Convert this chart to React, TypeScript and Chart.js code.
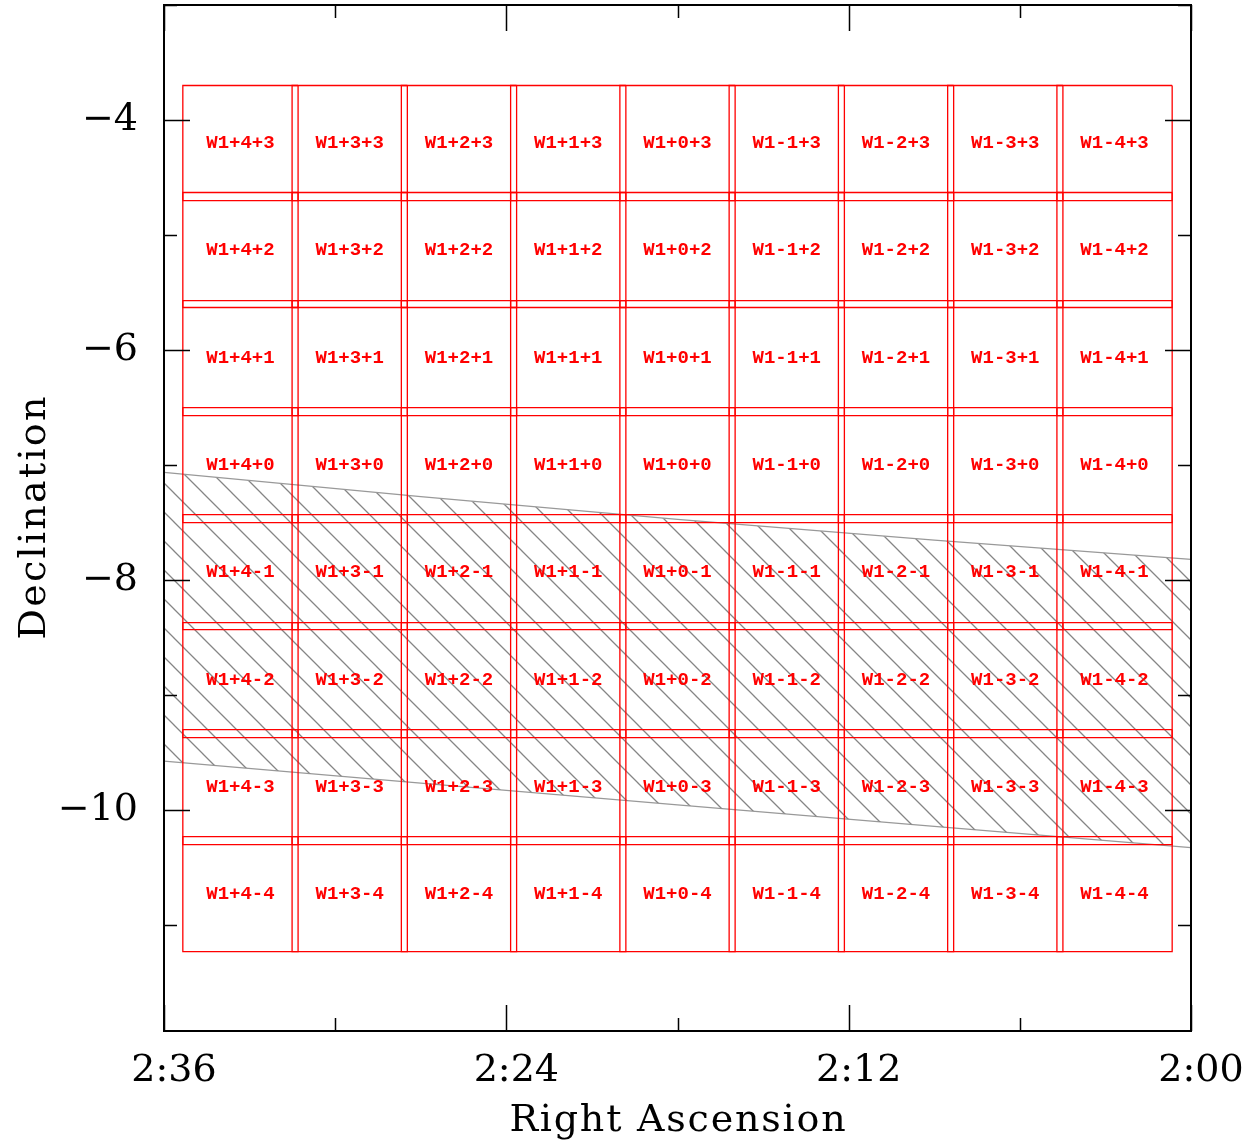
import React, { useEffect, useRef } from 'react';
import { Chart, registerables } from 'chart.js';

Chart.register(...registerables);

// ---- data (RA in minutes of time past 0h, Dec in degrees) ----
const tileColumns = [4, 3, 2, 1, 0, -1, -2, -3, -4];
const tileRows = [3, 2, 1, 0, -1, -2, -3, -4];
const tileRaCenters = [153.32, 149.49, 145.66, 141.83, 138.0, 134.17, 130.34, 126.51, 122.68];
const tileDecCenters = [-4.2, -5.13, -6.07, -7.0, -7.93, -8.87, -9.8, -10.73];
const tileHalfWidthRa = 2.02;
const tileHalfHeightDec = 0.5;

const bandRa = [156, 147, 138, 129, 120];
const bandUpperDec = [-7.063, -7.275, -7.472, -7.653, -7.819];
const bandLowerDec = [-9.573, -9.765, -9.954, -10.141, -10.325];

const raMin = 120;
const raMax = 156;
const decMin = -11.92;
const decMax = -3.0;

const tileName = (c: number, r: number) =>
  `W1${c < 0 ? '-' : '+'}${Math.abs(c)}${r < 0 ? '-' : '+'}${Math.abs(r)}`;

const raLabel = (v: number) => `${Math.floor(v / 60)}:${String(v % 60).padStart(2, '0')}`;

export default function App() {
  const ref = useRef<HTMLCanvasElement>(null);

  useEffect(() => {
    const canvas = ref.current!;
    const ctx = canvas.getContext('2d')!;

    // diagonal hatch pattern
    const s = 29;
    const pc = document.createElement('canvas');
    pc.width = s;
    pc.height = s;
    const p = pc.getContext('2d')!;
    p.strokeStyle = '#858585';
    p.lineWidth = 1.3;
    p.beginPath();
    for (const k of [-s, 0, s]) {
      p.moveTo(k - 2, -2);
      p.lineTo(k + s + 2, s + 2);
    }
    p.stroke();
    const pattern = ctx.createPattern(pc, 'repeat')!;

    const bandUpper = bandRa.map((x, i) => ({ x, y: bandUpperDec[i] }));
    const bandLower = bandRa.map((x, i) => ({ x, y: bandLowerDec[i] }));

    const tileSets: any[] = [];
    tileRows.forEach((r, ri) => {
      tileColumns.forEach((c, ci) => {
        const ra = tileRaCenters[ci];
        const dec = tileDecCenters[ri];
        const hw = tileHalfWidthRa;
        const hh = tileHalfHeightDec;
        tileSets.push({
          label: tileName(c, r),
          data: [
            { x: ra - hw, y: dec + hh },
            { x: ra + hw, y: dec + hh },
            { x: ra + hw, y: dec - hh },
            { x: ra - hw, y: dec - hh },
            { x: ra - hw, y: dec + hh },
          ],
          borderColor: '#ff0000',
          borderWidth: 1.3,
          pointRadius: 0,
          fill: false,
          tension: 0,
          order: 0,
        });
      });
    });

    const decor = {
      id: 'decor',
      afterDatasetsDraw(chart: any) {
        const { ctx: c, scales } = chart;
        const xs = scales.x;
        const ys = scales.y;
        c.save();
        c.fillStyle = '#ff0000';
        c.font = 'bold 19px "Liberation Mono"';
        c.textAlign = 'center';
        c.textBaseline = 'middle';
        tileRows.forEach((r, ri) => {
          tileColumns.forEach((col, ci) => {
            c.fillText(
              tileName(col, r),
              xs.getPixelForValue(tileRaCenters[ci]),
              ys.getPixelForValue(tileDecCenters[ri])
            );
          });
        });
        c.restore();
      },
      afterDraw(chart: any) {
        const { ctx: c, chartArea: a, scales } = chart;
        const xs = scales.x;
        const ys = scales.y;
        c.save();
        // frame
        c.strokeStyle = '#000';
        c.lineWidth = 2;
        c.strokeRect(a.left, a.top, a.right - a.left, a.bottom - a.top);
        // ticks, inward on all four sides
        c.lineWidth = 1.5;
        c.beginPath();
        xs.ticks.forEach((t: any) => {
          if (t.value % 6 !== 0) return;
          const len = t.value % 12 === 0 ? 26 : 13;
          const px = Math.round(xs.getPixelForValue(t.value)) + 0.5;
          c.moveTo(px, a.bottom);
          c.lineTo(px, a.bottom - len);
          c.moveTo(px, a.top);
          c.lineTo(px, a.top + len);
        });
        ys.ticks.forEach((t: any) => {
          if (!Number.isInteger(t.value)) return;
          const len = t.value % 2 === 0 ? 26 : 13;
          const py = Math.round(ys.getPixelForValue(t.value)) + 0.5;
          c.moveTo(a.left, py);
          c.lineTo(a.left + len, py);
          c.moveTo(a.right, py);
          c.lineTo(a.right - len, py);
        });
        c.stroke();

        // axis titles
        c.fillStyle = '#000';
        c.font = '38px "DejaVu Serif"';
        c.textBaseline = 'alphabetic';
        c.textAlign = 'left';
        const xt = 'Right Ascension';
        c.letterSpacing = '0px';
        const wx = c.measureText(xt).width;
        const lsx = (338 - wx) / xt.length;
        c.letterSpacing = `${lsx}px`;
        const wx2 = c.measureText(xt).width - lsx;
        c.fillText(xt, (a.left + a.right) / 2 - wx2 / 2, 1131);

        const yt = 'Declination';
        c.letterSpacing = '0px';
        const wy = c.measureText(yt).width;
        const lsy = (245 - wy) / yt.length;
        c.letterSpacing = `${lsy}px`;
        const wy2 = c.measureText(yt).width - lsy;
        c.translate(45, (a.top + a.bottom) / 2);
        c.rotate(-Math.PI / 2);
        c.fillText(yt, -wy2 / 2, 0);
        c.restore();
      },
    };

    const chart = new Chart(ctx, {
      type: 'line',
      data: {
        datasets: [
          {
            label: 'band upper',
            data: bandUpper,
            borderColor: '#999999',
            borderWidth: 1.2,
            pointRadius: 0,
            tension: 0,
            fill: '+1',
            backgroundColor: pattern,
            order: 1,
          } as any,
          {
            label: 'band lower',
            data: bandLower,
            borderColor: '#999999',
            borderWidth: 1.2,
            pointRadius: 0,
            tension: 0,
            fill: false,
            order: 1,
          },
          ...tileSets,
        ],
      },
      options: {
        responsive: false,
        animation: false,
        events: [],
        layout: { padding: { top: 5, right: 67, left: 0, bottom: 0 } },
        plugins: {
          legend: { display: false },
          tooltip: { enabled: false },
          title: { display: false },
        },
        scales: {
          x: {
            type: 'linear',
            min: raMin,
            max: raMax,
            reverse: true,
            border: { display: false },
            grid: { display: false, drawTicks: false },
            afterFit: (sc: any) => {
              sc.height = 111;
              sc.paddingLeft = 0;
              sc.paddingRight = 0;
            },
            ticks: {
              stepSize: 6,
              autoSkip: false,
              maxRotation: 0,
              padding: 17,
              labelOffset: 10,
              color: '#000',
              font: { family: 'DejaVu Serif', size: 38 },
              callback: (v: any) => (Number(v) % 12 === 0 ? raLabel(Number(v)) : ''),
            },
          },
          y: {
            type: 'linear',
            min: decMin,
            max: decMax,
            border: { display: false },
            grid: { display: false, drawTicks: false },
            afterFit: (sc: any) => {
              sc.width = 164;
              sc.paddingTop = 0;
              sc.paddingBottom = 0;
            },
            ticks: {
              stepSize: 1,
              autoSkip: false,
              padding: 26,
              color: '#000',
              font: { family: 'DejaVu Serif', size: 38 },
              callback: (v: any) => {
                const n = Number(v);
                return Number.isInteger(n) && n % 2 === 0 ? '\u2212' + Math.abs(n) : '';
              },
            },
          },
        },
      },
      plugins: [decor],
    });

    return () => chart.destroy();
  }, []);

  return (
    <div style={{ position: 'absolute', left: 0, top: 0, width: 1258, height: 1142, background: '#fff' }}>
      <canvas ref={ref} width={1258} height={1142} style={{ display: 'block' }} />
    </div>
  );
}
